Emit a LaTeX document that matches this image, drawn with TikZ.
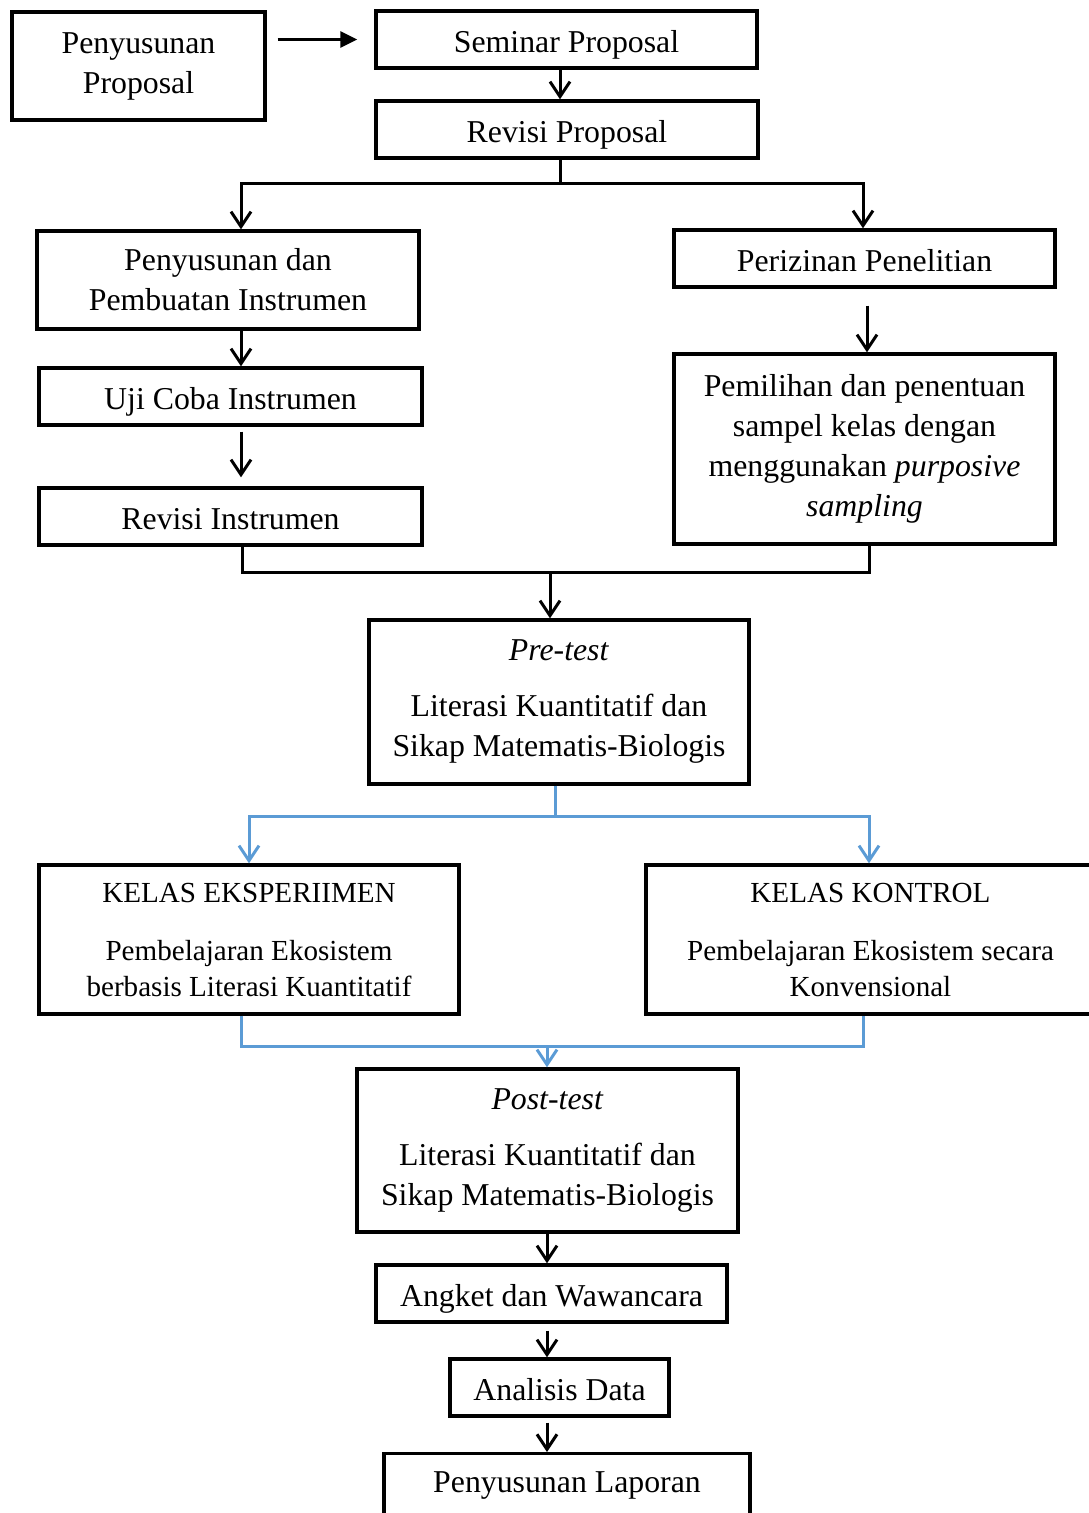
\documentclass[tikz,border=0pt]{standalone}
\usepackage{fontspec}
\setmainfont{Liberation Serif}
\usetikzlibrary{arrows.meta}
\definecolor{linkblue}{HTML}{5B9BD5}

\begin{document}
\begin{tikzpicture}[x=1pt,y=-1pt,line join=miter,
  font=\fontsize{31.8}{40}\selectfont,
  box/.style={draw,rectangle,line width=3.4pt,inner sep=0pt,align=center},
  onebox/.style={box,minimum height=57pt,text height=33pt,text depth=7pt},
  kelas/.style={box,font=\fontsize{29.1}{36}\selectfont},
  conn/.style={line width=3pt},
  arr/.style={conn,-{Straight Barb[length=15pt,width=20pt]}},
  darr/.style={conn,{Straight Barb[length=15pt,width=20pt]}-{Straight Barb[length=15pt,width=20pt]}},
  arrtri/.style={conn,-{Triangle[length=17pt,width=16pt]}},
  bconn/.style={line width=3pt,draw=linkblue},
  barr/.style={bconn,-{Straight Barb[length=15pt,width=20pt]}},
  bdarr/.style={bconn,{Straight Barb[length=15pt,width=20pt]}-{Straight Barb[length=15pt,width=20pt]}}]
\useasboundingbox (0,0) rectangle (1089,1513);
\clip (0,0) rectangle (1089,1513);

\node[box,minimum width=253pt,minimum height=108pt] (prop) at (138.5,66) {Penyusunan\\Proposal};
\node[onebox,minimum width=381pt] (seminar) at (566.5,39.5) {Seminar Proposal};
\node[onebox,minimum width=382pt] (revprop) at (567,129.5) {Revisi Proposal};
\node[box,minimum width=382pt,minimum height=98pt] (penyusunan) at (228,280) {Penyusunan dan\\Pembuatan Instrumen};
\node[onebox,minimum width=381pt] (perizinan) at (864.5,258.5) {Perizinan Penelitian};
\node[onebox,minimum width=383pt] (uji) at (230.5,396.5) {Uji Coba Instrumen};
\node[onebox,minimum width=383pt] (revins) at (230.5,516.5) {Revisi Instrumen};
\node[box,minimum width=381pt,minimum height=190pt] (pemilihan) at (864.5,449) {Pemilihan dan penentuan\\sampel kelas dengan\\menggunakan \textit{purposive}\\\textit{sampling}};
\node[box,minimum width=380pt,minimum height=164pt] (pretest) at (559,702) {\textit{Pre-test}\\[16pt]Literasi Kuantitatif dan\\Sikap Matematis-Biologis};
\node[kelas,minimum width=420pt,minimum height=149pt] (eksp) at (249,939.5) {KELAS EKSPERIIMEN\\[22pt]Pembelajaran Ekosistem\\berbasis Literasi Kuantitatif};
\node[kelas,minimum width=449pt,minimum height=149pt] (kontrol) at (870.5,939.5) {KELAS KONTROL\\[22pt]Pembelajaran Ekosistem secara\\Konvensional};
\node[box,minimum width=381pt,minimum height=163pt] (posttest) at (547.5,1150.5) {\textit{Post-test}\\[16pt]Literasi Kuantitatif dan\\Sikap Matematis-Biologis};
\node[onebox,minimum width=351pt] (angket) at (551.5,1293.5) {Angket dan Wawancara};
\node[onebox,minimum width=219pt] (analisis) at (559.5,1387.5) {Analisis Data};
\node[box,minimum width=366pt,minimum height=120pt,anchor=north,
  label={[anchor=center,yshift=-34pt]north:Penyusunan Laporan}] (laporan) at (567,1452) {};

\coordinate (fork) at (560,183);
\coordinate (fl) at (241,183);
\coordinate (fr) at (863,183);
\coordinate (jl) at (242,572);
\coordinate (jr) at (869,572);
\coordinate (join) at (550,572);
\coordinate (bf) at (555,816);
\coordinate (bl) at (249,816);
\coordinate (br) at (869,816);
\coordinate (ml) at (241,1046);
\coordinate (mr) at (863,1046);
\coordinate (mj) at (547,1046);

\draw[arrtri,shorten <=11pt,shorten >=17pt] (prop.east |- seminar.west) -- (seminar.west);
\draw[arr] (seminar.south -| fork) -- (revprop.north -| fork);
\draw[conn] (revprop.south -| fork) -- (fork);
\draw[darr] (penyusunan.north -| fl) -- (fl) -- (fr) -- (perizinan.north -| fr);
\draw[arr] (penyusunan.south -| fl) -- (uji.north -| fl);
\draw[arr,shorten <=5pt,shorten >=9pt] (uji.south -| fl) -- (revins.north -| fl);
\draw[arr,shorten <=17pt] ([xshift=2.5pt]perizinan.south) -- ([xshift=2.5pt]pemilihan.north);
\draw[conn] (revins.south -| jl) -- (jl) -- (jr) -- (pemilihan.south -| jr);
\draw[arr] (join) -- (pretest.north -| join);
\draw[bconn] (pretest.south -| bf) -- (bf);
\draw[bdarr] (eksp.north -| bl) -- (bl) -- (br) -- (kontrol.north -| br);
\draw[bconn] (eksp.south -| ml) -- (ml) -- (mr) -- (kontrol.south -| mr);
\draw[barr] (mj) -- (posttest.north -| mj);
\draw[arr] (posttest.south -| mj) -- (angket.north -| mj);
\draw[arr,shorten <=7pt] (angket.south -| mj) -- (analisis.north -| mj);
\draw[arr,shorten <=5pt] (analisis.south -| mj) -- (laporan.north -| mj);
\end{tikzpicture}
\end{document}
